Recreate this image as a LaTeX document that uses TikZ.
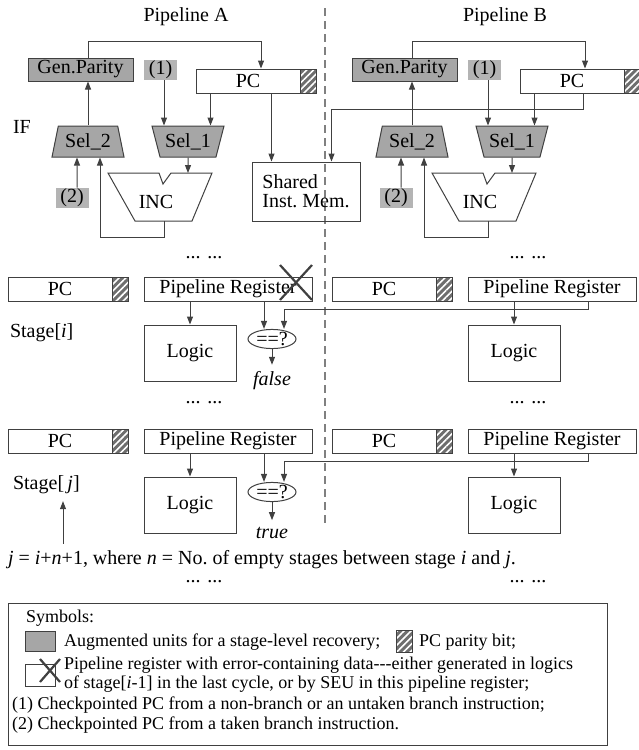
\documentclass[tikz,border=0pt]{standalone}
\usepackage{fontspec}
\setmainfont{Liberation Serif}
\usetikzlibrary{arrows.meta,positioning,calc,shapes.geometric,patterns.meta}
\definecolor{darkline}{RGB}{64,64,64}
\definecolor{unitgray}{RGB}{166,166,166}
\definecolor{ckgray}{RGB}{180,180,180}
\definecolor{hatchgray}{RGB}{110,110,110}

\begin{document}
\begin{tikzpicture}[x=0.5pt, y=-0.5pt,
    font=\fontsize{10}{9.5}\selectfont,
    wire/.style={draw=darkline, line width=0.5pt},
    arr/.style={wire, -{Triangle[length=4pt,width=3pt]}},
    unitbox/.style={wire, fill=unitgray, inner sep=0pt},
    ckp/.style={fill=ckgray, minimum width=16.5pt, minimum height=10pt, inner sep=0pt},
    reg/.style={wire, fill=white, minimum height=12pt, inner sep=0pt},
    bit/.style={wire, preaction={fill=hatchgray},
                pattern={Lines[angle=45,distance=2.4pt,line width=0.8pt]}, pattern color=white,
                minimum width=8pt, minimum height=12pt, inner sep=0pt},
    sel/.style={trapezium, unitbox, trapezium stretches body, minimum width=36pt, minimum height=15.5pt},
    logicbox/.style={wire, minimum width=46pt, minimum height=28pt},
    cmp/.style={ellipse, wire, minimum width=24pt, minimum height=9pt, inner sep=0pt},
    legtext/.style={anchor=west, font=\fontsize{9}{9}\selectfont},
    divider/.style={draw=gray, line width=0.8pt, dash pattern=on 4pt off 2.5pt},
    xmark/.style={draw=darkline, line width=1.1pt}
  ]
  \useasboundingbox (0,0) rectangle (638,750);

  \node (titleA) at (186,17) {Pipeline A};
  \node (titleB) at (505,17) {Pipeline B};
  \node[anchor=west] (iflab) at (6,127) {IF};
  \draw[divider] (325,8) -- (325,523);

  \foreach \p/\dx in {A/0,B/324}{
    % IF stage
    \node[unitbox, minimum width=52.5pt, minimum height=11.5pt] (gp\p) at (\dx+80.5,69.5) {Gen.Parity};
    \node[ckp] (ca\p) at (\dx+160.5,70) {(1)};
    \node[reg, minimum width=52pt] (pc\p) at (\dx+248,81) {PC};
    \node[bit] (pcbit\p) at (\dx+308,81) {};
    \node[sel, trapezium left angle=69, trapezium right angle=69] (seltwo\p) at (\dx+88,141.5) {Sel\_2};
    \node[sel, trapezium left angle=116, trapezium right angle=116] (selone\p) at (\dx+188,141.5) {Sel\_1};
    \node[ckp] (cb\p) at (\dx+72,198) {(2)};
    \draw[wire, shift={(\dx,0)}] (108,173) -- (159,173) -- (163,184) -- (171,173) -- (212,173)
      -- (192,221) -- (135,221) -- cycle;
    \node (inc\p) at (\dx+156,202) {INC};
    \coordinate (incin\p) at (\dx+188,173);
    \coordinate (incout\p) at (\dx+164,221);
    \coordinate (catap\p) at ($(ca\p.south)+(3.5,0)$);
    \coordinate (pctap\p) at ($(pc\p.south west)+(15,0)$);
    % IF wiring
    \draw[arr] (seltwo\p.north) -- (seltwo\p.north |- gp\p.south);
    \draw[arr] (seltwo\p.north |- gp\p.north) -- ++(0,-16) -| ($(pc\p.north)+(13,0)$);
    \draw[arr] (catap\p) -- (catap\p |- selone\p.north);
    \draw[arr] (pctap\p) -- (pctap\p |- selone\p.north);
    \draw[arr] (selone\p.south) -- (incin\p);
    \draw[arr] (incout\p) -- ++(0,16) -| ($(seltwo\p.south)+(12,0)$);
    \draw[arr] ($(cb\p.north)+(5,0)$) -- ($(seltwo\p.south)+(-11,0)$);
    % stage[i] and stage[j]
    \foreach \r/\y in {i/289,j/441}{
      \node[reg, minimum width=52pt] (pc\p\r) at (\dx+60,\y) {PC};
      \node[bit] (pcbit\p\r) at (\dx+120,\y) {};
      \node[reg, minimum width=84pt] (reg\p\r) at (\dx+228,\y) {Pipeline Register};
      \node[logicbox] (logic\p\r) at (\dx+190,\y+64) {Logic};
      \draw[arr] (logic\p\r.north |- reg\p\r.south) -- (logic\p\r.north);
    }
    \foreach \k/\y in {1/258,2/403,3/582}
      \node (dots\p\k) at (\dx+204,\y) {... ...};
  }

  % shared memory
  \node[wire, align=left, minimum width=54pt, inner xsep=5pt, minimum height=29.5pt] (shmem) at (306,191.5) {Shared\\Inst.\ Mem.};
  \coordinate (memtap) at ($(pcA.south west)+(76,0)$);
  \draw[arr] (memtap) -- (memtap |- shmem.north);
  \draw[arr] ($(pcB.south west)+(64,0)$) -- ++(0,16) -| ($(shmem.north west)+(80,0)$);

  % comparators
  \node[cmp] (cmpi) at (272,339) {==?};
  \node[cmp] (cmpj) at (272,492) {==?};
  \node (resi) at (272,381) {\textit{false}};
  \node (resj) at (272,533) {\textit{true}};
  \foreach \r in {i,j}{
    \draw[arr] ($(regA\r.south)+(36,0)$) -- ($(cmp\r.north)+(-8,0)$);
    \draw[arr] ($(regB\r.south)+(36,0)$) -- ++(0,8) -| ($(cmp\r.north)+(12,0)$);
    \draw[arr] (cmp\r.south) -- (res\r.north);
  }
  \draw[xmark] (280,265) -- (312,300) (312,265) -- (280,300);

  \node[anchor=west] (sti) at (3,333) {Stage[\textit{i}]};
  \node[anchor=west] (stj) at (6,485) {Stage[\,\textit{j}]};
  \node[anchor=west] (note) at (1,560) {\textit{j} = \textit{i}+\textit{n}+1, where \textit{n} = No.\ of empty stages between stage \textit{i} and \textit{j}.};
  \draw[arr] ($(note.north west)+(62,0)$) -- ($(stj.south west)+(57,0)$);

  % legend
  \node[wire, minimum width=299.5pt, minimum height=71pt, inner sep=0pt] (legend) at (307.5,674.5) {};
  \node[legtext] (legtitle) at (19,618) {Symbols:};
  \node[unitbox, minimum width=15pt, minimum height=10pt] (legunit) at (40,641) {};
  \node[legtext] (legunittext) at (57,642) {Augmented units for a stage-level recovery;};
  \node[bit, minimum width=8pt, minimum height=11pt] (legbit) at (404.5,641) {};
  \node[legtext] (legbittext) at (412,642) {PC parity bit;};
  \node[reg, minimum width=15pt, minimum height=11pt] (legreg) at (40,675) {};
  \draw[xmark] (40,659) -- (60,682) (60,659) -- (40,682);
  \node[legtext] (legregtext) at (57,665) {Pipeline register with error-containing data-{}-{}-either generated in logics};
  \node[legtext] (legregtextb) at (57,684) {of stage[\textit{i}-1] in the last cycle, or by SEU in this pipeline register;};
  \node[legtext] (legone) at (5,705) {(1) Checkpointed PC from a non-branch or an untaken branch instruction;};
  \node[legtext] (legtwo) at (5,725) {(2) Checkpointed PC from a taken branch instruction.};
\end{tikzpicture}
\end{document}
